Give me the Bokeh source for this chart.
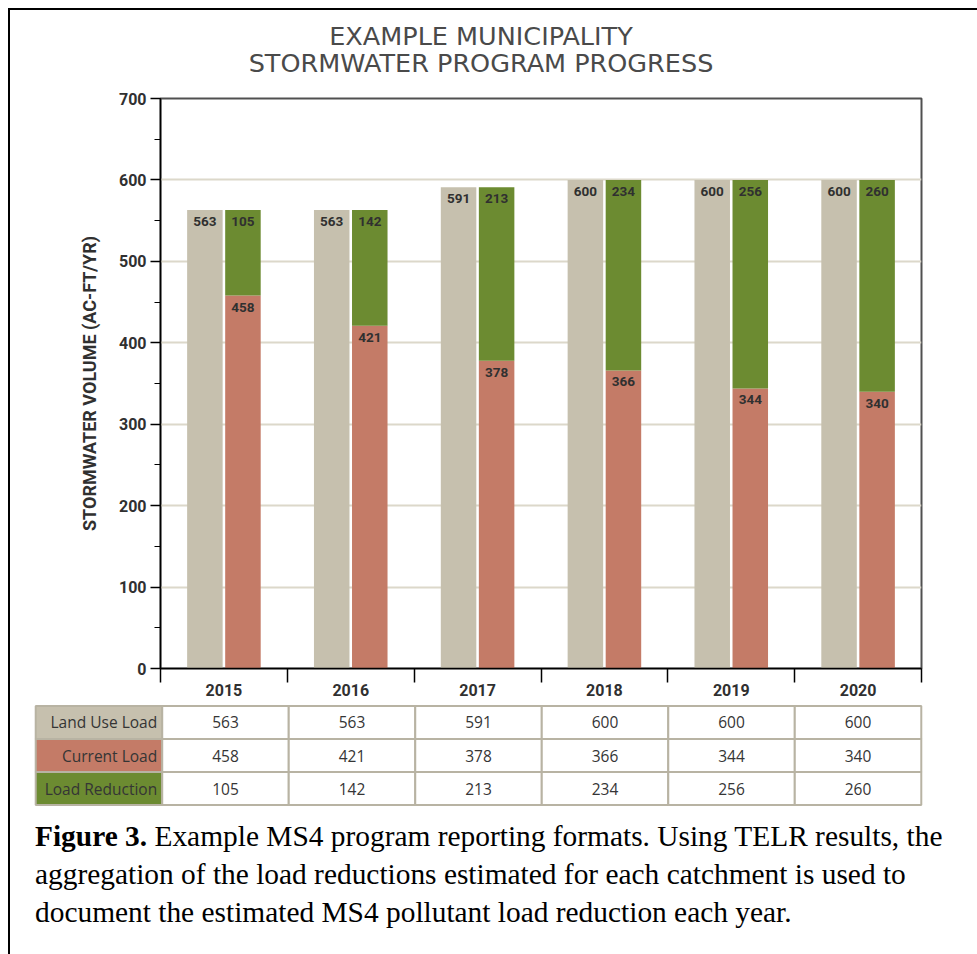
from bokeh.plotting import figure
from bokeh.models import (FactorRange, Range1d, LinearAxis, CategoricalAxis, FixedTicker,
                          SingleIntervalTicker, ColumnDataSource, Div)
from bokeh.transform import dodge
from bokeh.layouts import column
from bokeh.core.properties import value
from bokeh.embed import file_html
from bokeh.resources import INLINE

# ---------------- data ----------------
years = ["2015", "2016", "2017", "2018", "2019", "2020"]
land_use = [563, 563, 591, 600, 600, 600]
current = [458, 421, 378, 366, 344, 340]
reduction = [105, 142, 213, 234, 256, 260]
row_names = ["Land Use Load", "Current Load", "Load Reduction"]
title_lines = ["EXAMPLE MUNICIPALITY", "STORMWATER PROGRAM PROGRESS"]
y_label = "STORMWATER VOLUME (AC-FT/YR)"
caption_bold = "Figure 3."
caption_lines = ["Example MS4 program reporting formats. Using TELR results, the",
                 "aggregation of the load reductions estimated for each catchment is used to",
                 "document the estimated MS4 pollutant load reduction each year."]

GREY = "#c6c0ae"
RED = "#c47b67"
GREEN = "#6c8b31"
TXT = "#303030"
BOLD_FONT = value("Roboto")

# ---------------- title ----------------
tf = figure(width=965, height=78, x_range=Range1d(0, 965), y_range=Range1d(78, 0),
            output_backend="svg", toolbar_location=None, min_border=0,
            x_axis_location=None, y_axis_location=None, outline_line_color=None,
            margin=(0, 0, 0, 2), frame_align=False)
tf.grid.visible = False
tsrc = ColumnDataSource(dict(x=[468.5, 468.5], y=[25, 52], t=title_lines))
tf.text(x="x", y="y", text="t", source=tsrc, text_align="center", text_baseline="middle",
        text_font=value("DejaVu Sans"), text_font_size="25.5px", text_color="#4a4a4a")

# ---------------- main chart ----------------
src = ColumnDataSource(dict(
    year=years, land=land_use, current=current, reduction=reduction,
    land_txt=[str(v) for v in land_use],
    cur_txt=[str(v) for v in current],
    red_txt=[str(v) for v in reduction],
))

p = figure(x_range=FactorRange(factors=years), y_range=Range1d(0, 700),
           width=958, height=616, output_backend="svg", toolbar_location=None,
           x_axis_location=None, y_axis_location="left",
           min_border_left=149, min_border_right=48, min_border_top=10, min_border_bottom=36,
           outline_line_color="#505050", outline_line_width=2, margin=(0, 0, 0, 1),
           frame_align=False)
p.background_fill_color = "white"
p.border_fill_color = "white"

yax = p.yaxis[0]
yax.ticker = SingleIntervalTicker(interval=100, num_minor_ticks=2)
yax.axis_line_color = "black"
yax.axis_line_width = 1.5
yax.major_tick_line_width = 1.5
yax.major_tick_out = 10
yax.major_tick_in = 0
yax.minor_tick_out = 6
yax.minor_tick_in = 0
yax.minor_tick_line_width = 1.2
yax.major_label_standoff = 4
yax.major_label_text_font = "Roboto"
yax.major_label_text_font_style = "bold"
yax.major_label_text_font_size = "16px"
yax.major_label_text_color = TXT
yax.axis_label = y_label
yax.axis_label_text_font = "Roboto"
yax.axis_label_text_font_style = "bold"
yax.axis_label_text_font_size = "18px"
yax.axis_label_text_color = TXT
yax.axis_label_standoff = 16

p.ygrid.grid_line_color = "#dcd8ca"
p.ygrid.grid_line_width = 2
p.xgrid.visible = False

tick_axis = LinearAxis(ticker=FixedTicker(ticks=list(range(len(years) + 1))),
                       major_tick_out=14, major_tick_in=0, major_tick_line_width=1.5,
                       minor_tick_line_color=None, axis_line_color="black", axis_line_width=1.5,
                       major_label_text_font_size="0px", major_label_text_color=None,
                       major_label_standoff=0)
p.add_layout(tick_axis, "below")
cat_axis = CategoricalAxis(axis_line_color=None, major_tick_line_color=None,
                           minor_tick_line_color=None, major_label_standoff=-5,
                           major_label_text_font="Roboto", major_label_text_font_style="bold",
                           major_label_text_font_size="16px", major_label_text_color=TXT)
p.add_layout(cat_axis, "below")

BW = 0.28
left_x = dodge("year", -0.15, range=p.x_range)
right_x = dodge("year", 0.15, range=p.x_range)

p.vbar(x=left_x, top="land", bottom=0, width=BW, source=src, fill_color=GREY, line_color=None)
p.vbar_stack(["current", "reduction"], x=right_x, width=BW, source=src,
             fill_color=[RED, GREEN], line_color=None)

lab_kw = dict(text_align="center", text_baseline="top", y_offset=7, text_font=BOLD_FONT,
              text_font_style="bold", text_font_size="13.5px", text_color=TXT, source=src)
p.text(x=left_x, y="land", text="land_txt", **lab_kw)
p.text(x=right_x, y="land", text="red_txt", **lab_kw)
p.text(x=right_x, y="current", text="cur_txt", **lab_kw)

# ---------------- table ----------------
LABEL_COL = "row"
row_values = [land_use, current, reduction]
row_fills = [GREY, RED, GREEN]
cx, cy, cfill = [], [], []
vx, vy, vt = [], [], []
for name, vals, fill in zip(row_names, row_values, row_fills):
    cx.append(LABEL_COL); cy.append(name); cfill.append(fill)
    for yr, v in zip(years, vals):
        cx.append(yr); cy.append(name); cfill.append("white")
        vx.append(yr); vy.append(name); vt.append(str(v))

t = figure(x_range=FactorRange(factors=[LABEL_COL] + years, range_padding=0.005),
           y_range=FactorRange(factors=row_names[::-1], range_padding=0.03),
           width=957, height=102, output_backend="svg", toolbar_location=None,
           min_border_left=23, min_border_right=44, min_border_top=0, min_border_bottom=0,
           x_axis_location=None, y_axis_location=None, outline_line_color=None,
           frame_align=False)
t.grid.visible = False
t.rect(x="x", y="y", width=1, height=1, source=ColumnDataSource(dict(x=cx, y=cy, fill=cfill)),
       fill_color="fill", line_color="#b8b3a3", line_width=2)
t.text(x="x", y="y", text="t", source=ColumnDataSource(dict(x=vx, y=vy, t=vt)),
       text_align="center", text_baseline="middle", text_font=value("Open Sans"),
       text_font_size="15.5px", text_color="#353535")
lsrc = ColumnDataSource(dict(x=[LABEL_COL] * len(row_names), y=row_names, t=row_names))
t.text(x=dodge("x", 0.46, range=t.x_range), y="y", text="t", source=lsrc,
       text_align="right", text_baseline="middle", text_font=value("Open Sans"),
       text_font_size="15.5px", text_color="#353535")

# ---------------- caption ----------------
cap_html = (f"<div><b>{caption_bold}</b> <span>{caption_lines[0]}</span></div>"
            + "".join(f"<div>{ln}</div>" for ln in caption_lines[1:]))
cap = Div(text=cap_html, width=930, height=137, margin=(11, 0, 0, 25),
          styles={"font-family": "'Liberation Serif', 'Times New Roman', serif",
                  "font-size": "29.4px", "line-height": "38px", "color": "black",
                  "white-space": "nowrap"})

layout = column(tf, p, t, cap, spacing=0, margin=(8, 0, 0, 8),
                styles={"border-top": "2px solid black", "border-left": "2px solid black"})

open("out.html", "w").write(file_html(layout, INLINE))
